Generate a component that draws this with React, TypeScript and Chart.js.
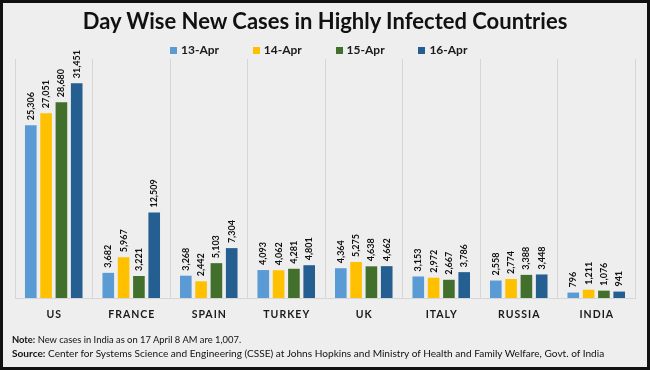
import React, { useEffect, useRef } from "react";
import { Chart, registerables } from "chart.js";

Chart.register(...registerables);

const categories = ["US", "FRANCE", "SPAIN", "TURKEY", "UK", "ITALY", "RUSSIA", "INDIA"];
const seriesNames = ["13-Apr", "14-Apr", "15-Apr", "16-Apr"];
const apr13 = [25306, 3682, 3268, 4093, 4364, 3153, 2558, 796];
const apr14 = [27051, 5967, 2442, 4062, 5275, 2972, 2774, 1211];
const apr15 = [28680, 3221, 5103, 4281, 4638, 2667, 3388, 1076];
const apr16 = [31451, 12509, 7304, 4801, 4662, 3786, 3448, 941];
const seriesColors = ["#5b9bd5", "#ffc000", "#426f2c", "#255e91"];

const FONT = "Lato, 'Open Sans', sans-serif";

const labelPlugin = {
  id: "barLabels",
  afterDatasetsDraw(chart: any) {
    const ctx = chart.ctx;
    ctx.save();
    ctx.fillStyle = "#111";
    ctx.font = `bold 9px ${FONT}`;
    ctx.textAlign = "left";
    ctx.textBaseline = "middle";
    chart.data.datasets.forEach((ds: any, di: number) => {
      const meta = chart.getDatasetMeta(di);
      meta.data.forEach((el: any, i: number) => {
        const v = ds.data[i];
        ctx.save();
        ctx.translate(el.x, el.y - 5);
        ctx.rotate(-Math.PI / 2);
        ctx.fillText(v.toLocaleString("en-US"), 0, 0);
        ctx.restore();
      });
    });
    // category labels
    const xs = chart.scales.x;
    ctx.font = `bold 10.5px ${FONT}`;
    ctx.textAlign = "center";
    ctx.fillStyle = "#1a1a1a";
    (ctx as any).letterSpacing = "1px";
    categories.forEach((c, i) => {
      ctx.fillText(c, xs.getPixelForValue(i) + 0.5, 314.5);
    });
    (ctx as any).letterSpacing = "0px";
    ctx.restore();
  },
};

export default function App() {
  const ref = useRef<HTMLCanvasElement | null>(null);
  useEffect(() => {
    if (!ref.current) return;
    const chart = new Chart(ref.current, {
      type: "bar",
      data: {
        labels: categories,
        datasets: [apr13, apr14, apr15, apr16].map((d, i) => ({
          label: seriesNames[i],
          data: d,
          backgroundColor: seriesColors[i],
          borderWidth: 0,
          categoryPercentage: 0.79,
          barPercentage: 0.76,
        })),
      },
      options: {
        animation: false,
        responsive: false,
        maintainAspectRatio: false,
        layout: { padding: { left: 15, right: 15, top: 59, bottom: 72 } },
        plugins: { legend: { display: false }, tooltip: { enabled: false }, title: { display: false } },
        scales: {
          x: {
            grid: { display: true, offset: true, color: "#d6d6d6", drawTicks: false, lineWidth: 1 },
            border: { display: true, color: "#d6d6d6" },
            ticks: { display: false },
          },
          y: { display: false, min: 0, max: 35000 },
        },
      },
      plugins: [labelPlugin],
    });
    return () => chart.destroy();
  }, []);

  return (
    <div
      style={{
        position: "fixed",
        left: 0,
        top: 0,
        width: 650,
        height: 370,
        background: "#eeeeee",
        fontFamily: FONT,
        overflow: "hidden",
      }}
    >
      <canvas ref={ref} width={650} height={370} style={{ position: "absolute", left: 0, top: 0, width: 650, height: 370 }} />
      <div
        style={{
          position: "absolute",
          left: 0,
          top: 5,
          width: 650,
          textAlign: "center",
          fontWeight: 700,
          fontSize: 22,
          color: "#111",
          lineHeight: "32px",
        }}
      >
        Day Wise New Cases in Highly Infected Countries
      </div>
      {seriesNames.map((n, i) => (
        <div
          key={n}
          style={{
            position: "absolute",
            left: 170 + i * 82.8,
            top: 42,
            display: "flex",
            alignItems: "center",
            fontSize: 12,
            fontWeight: 700,
            color: "#1a1a1a",
            lineHeight: "16px",
            whiteSpace: "nowrap",
          }}
        >
          <span style={{ display: "inline-block", width: 7, height: 7, background: seriesColors[i], marginRight: 4 }} />
          {n}
        </div>
      ))}
      <div style={{ position: "absolute", left: 12, top: 334, fontSize: 9.4, color: "#111", lineHeight: "12px", whiteSpace: "nowrap" }}>
        <b>Note:</b> New cases in India as on 17 April 8 AM are 1,007.
      </div>
      <div style={{ position: "absolute", left: 12, top: 346, fontSize: 10.1, color: "#111", lineHeight: "14px", whiteSpace: "nowrap" }}>
        <b>Source:</b> Center for Systems Science and Engineering (CSSE) at Johns Hopkins and Ministry of Health and Family Welfare, Govt. of India
      </div>
      <div
        style={{
          position: "absolute",
          left: 0,
          top: 0,
          width: 650,
          height: 370,
          boxSizing: "border-box",
          border: "3px solid #111",
          pointerEvents: "none",
        }}
      />
    </div>
  );
}
